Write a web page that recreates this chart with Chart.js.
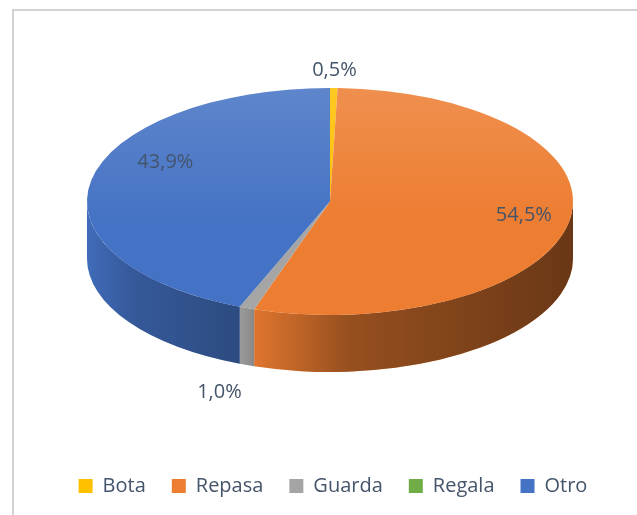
<!DOCTYPE html>
<html>
<head>
<meta charset="utf-8">
<script src="https://cdn.jsdelivr.net/npm/chart.js@4.4.0/dist/chart.umd.min.js"></script>
<style>
  html, body { margin: 0; padding: 0; background: #fff; overflow: hidden; }
  #wrap { position: relative; width: 637px; height: 515px; }
  #frame { position: absolute; left: 12px; top: 9px; width: 700px; height: 600px; border: 2px solid #d2d2d2; }
  #wrap canvas { position: absolute; left: 0; top: 0; }
</style>
</head>
<body>
<div id="wrap">
  <div id="frame"></div>
  <canvas id="myChart"></canvas>
</div>
<script>
var labels = ['Bota', 'Repasa', 'Guarda', 'Regala', 'Otro'];
var values = [0.5, 54.5, 1.0, 0, 43.9];
var colors = ['#FFC000', '#ED7D31', '#A5A5A5', '#70AD47', '#4472C4'];

// where each percentage label sits: fraction of the radius along the slice middle, plus a small lift
var labelRadius = [1.16, 0.81, 1.33, 1.2, 0.69];
var labelLift = [0, -2, -8, 0, -24];

var rx = 243;        // half width of the pie top
var tilt = 0.467;    // vertical squash of the top face
var depth = 57;      // thickness of the pie
var textColor = '#44546A';

function pieGeom(chart) {
  var a = chart.chartArea;
  var ry = rx * tilt;
  return { cx: (a.left + a.right) / 2 - 3, cy: a.top + ry, rx: rx, ry: ry };
}

var pie3d = {
  id: 'pie3d',
  beforeDatasetsDraw: function(chart) {
    var ctx = chart.ctx;
    var g = pieGeom(chart);
    var arcs = chart.getDatasetMeta(0).data;

    // outer wall, only the front half can be seen
    arcs.forEach(function(arc, i) {
      var t0 = Math.max(arc.startAngle, 0);
      var t1 = Math.min(arc.endAngle, Math.PI);
      if (t1 <= t0) return;
      ctx.save();
      ctx.beginPath();
      ctx.ellipse(g.cx, g.cy, g.rx, g.ry, 0, t0, t1, false);
      ctx.ellipse(g.cx, g.cy + depth, g.rx, g.ry, 0, t1, t0, true);
      ctx.closePath();
      ctx.fillStyle = colors[i];
      ctx.fill();
      var xl = g.cx + g.rx * Math.cos(t1);
      var xr = g.cx + g.rx * Math.cos(t0);
      var k = Math.min(Math.max(xr - xl, 1) / 330, 1);
      var grd = ctx.createLinearGradient(xl, 0, xr, 0);
      grd.addColorStop(0, 'rgba(0,0,0,0.06)');
      grd.addColorStop(0.3, 'rgba(0,0,0,' + (0.08 + 0.3 * k) + ')');
      grd.addColorStop(1, 'rgba(0,0,0,' + (0.15 + 0.42 * k) + ')');
      ctx.fillStyle = grd;
      ctx.fill();
      ctx.restore();
    });

    // top face: the library's own arcs, squashed into an ellipse
    arcs.forEach(function(arc) {
      var R = arc.outerRadius || 1;
      ctx.save();
      ctx.translate(g.cx, g.cy);
      ctx.scale(g.rx / R, g.ry / R);
      ctx.translate(-arc.x, -arc.y);
      arc.draw(ctx);
      ctx.restore();
    });

    // soft light on the top
    ctx.save();
    ctx.beginPath();
    ctx.ellipse(g.cx, g.cy, g.rx, g.ry, 0, 0, Math.PI * 2);
    var hl = ctx.createLinearGradient(0, g.cy - g.ry, 0, g.cy + g.ry);
    hl.addColorStop(0, 'rgba(255,255,255,0.14)');
    hl.addColorStop(0.6, 'rgba(255,255,255,0)');
    ctx.fillStyle = hl;
    ctx.fill();
    ctx.restore();
    return false;
  },
  afterDraw: function(chart) {
    var ctx = chart.ctx;
    var g = pieGeom(chart);
    var arcs = chart.getDatasetMeta(0).data;
    ctx.save();
    ctx.font = '20px "Open Sans"';
    ctx.fillStyle = textColor;
    ctx.textAlign = 'center';
    ctx.textBaseline = 'middle';
    arcs.forEach(function(arc, i) {
      if (!values[i]) return;
      var t = (arc.startAngle + arc.endAngle) / 2;
      var f = labelRadius[i];
      var x = g.cx + g.rx * f * Math.cos(t);
      var y = g.cy + g.ry * f * Math.sin(t);
      if (f > 1 && Math.sin(t) > 0) y += depth;
      y += labelLift[i];
      ctx.fillText(values[i].toFixed(1).replace('.', ',') + '%', x, y);
    });
    ctx.restore();
  }
};

var ctx = document.getElementById('myChart').getContext('2d');
var myChart = new Chart(ctx, {
  type: 'pie',
  data: {
    labels: labels,
    datasets: [{
      data: values,
      backgroundColor: colors,
      borderWidth: 0
    }]
  },
  options: {
    responsive: true,
    maintainAspectRatio: false,
    animation: false,
    layout: {
      padding: { top: 88, left: 29, right: 0, bottom: 9 }
    },
    plugins: {
      legend: {
        position: 'bottom',
        labels: {
          boxWidth: 14,
          boxHeight: 14,
          padding: 26,
          color: textColor,
          font: { family: '"Open Sans"', size: 20 }
        }
      },
      tooltip: { enabled: false }
    }
  },
  plugins: [pie3d]
});
</script>
</body>
</html>
